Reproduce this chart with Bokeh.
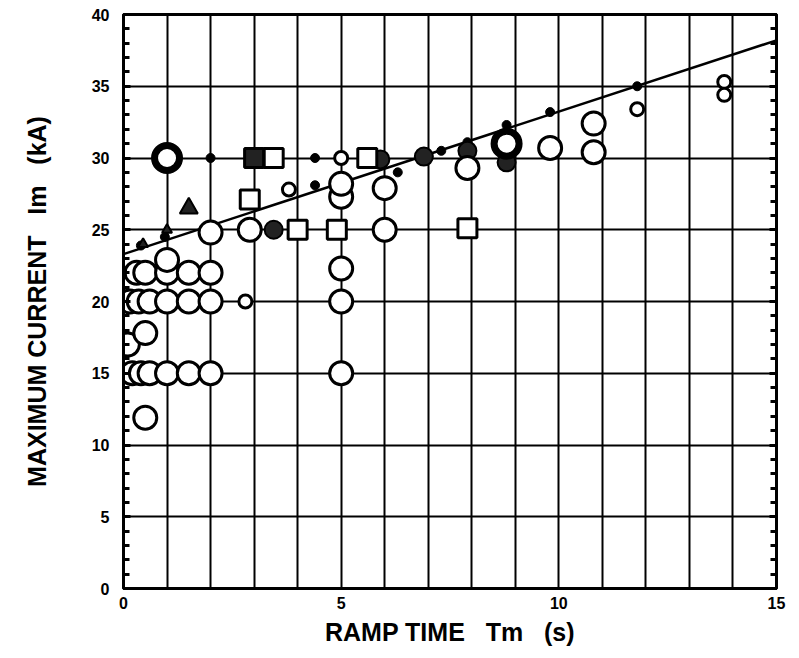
from bokeh.plotting import figure
from bokeh.models import FixedTicker, LinearAxis, Range1d
from bokeh.embed import file_html
from bokeh.resources import INLINE

# ---- data ----
# large open circles
big_x = [0.2, 0.4, 0.6, 1.0, 1.5, 2.0, 5.0,
         0.15, 0.35, 0.6, 1.0, 1.5, 2.0, 5.0,
         0.3, 0.5, 1.0, 1.5, 2.0, 5.0,
         0.1, 0.5, 0.5, 1.0,
         2.0, 2.9, 6.0,
         5.0, 5.0, 6.0,
         7.9, 9.8, 10.8, 10.8]
big_y = [15, 15, 15, 15, 15, 15, 15,
         20, 20, 20, 20, 20, 20, 20,
         22, 22, 22, 22, 22, 22.3,
         17.0, 17.8, 11.9, 22.9,
         24.8, 25.0, 25.0,
         27.3, 28.2, 27.9,
         29.3, 30.7, 32.4, 30.4]
# small open circles
small_x = [2.8, 3.8, 5.0, 11.8, 13.8, 13.8]
small_y = [20.0, 27.8, 30.0, 33.4, 35.3, 34.4]
# small filled dots
dot_x = [0.05, 0.05, 0.4, 0.95, 2.0, 4.4, 4.4, 6.3, 7.3, 7.9, 8.8, 9.8, 11.8]
dot_y = [15.0, 20.5, 23.9, 24.5, 30.0, 28.1, 30.0, 29.0, 30.5, 31.1, 32.3, 33.2, 35.0]
# open squares
sq_x = [2.9, 3.45, 4.0, 4.9, 5.6, 7.9]
sq_y = [27.1, 30.0, 25.0, 25.0, 30.0, 25.1]
# filled squares
fsq_x = [3.0]
fsq_y = [30.0]
# filled circles (dark blobs)
fc_x = [5.9, 6.9, 7.9, 8.8, 3.45]
fc_y = [29.9, 30.1, 30.5, 29.7, 25.0]
# thick rings
ring_x = [1.0, 8.8]
ring_y = [30.0, 31.0]
# filled triangles
tri_x = [0.45, 1.0, 1.5]
tri_y = [24.0, 25.0, 26.5]
# least-squares line end points
fit_x = [0.0, 15.0]
fit_y = [23.3, 38.2]

x_labels = [0, 5, 10, 15]
x_grid = list(range(0, 16))
y_major = list(range(0, 41, 5))
y_minor = list(range(0, 41))

p = figure(width=799, height=658, x_range=Range1d(0, 15), y_range=Range1d(0, 40),
           output_backend="svg", toolbar_location=None,
           min_border_left=123, min_border_right=23, min_border_top=14,
           min_border_bottom=70)
p.background_fill_color = "white"
p.border_fill_color = "white"
p.outline_line_color = "black"
p.outline_line_width = 3

p.xgrid.ticker = FixedTicker(ticks=x_grid)
p.ygrid.ticker = FixedTicker(ticks=y_major)
for g in (p.xgrid, p.ygrid):
    g.grid_line_color = "black"
    g.grid_line_width = 2
    g.grid_line_alpha = 1.0

font = "Liberation Sans"
p.xaxis.ticker = FixedTicker(ticks=x_labels)
p.yaxis.ticker = FixedTicker(ticks=y_major, minor_ticks=y_minor)
for ax in (p.xaxis, p.yaxis):
    ax.axis_line_color = "black"
    ax.axis_line_width = 3
    ax.major_label_text_font = font
    ax.major_label_text_font_style = "bold"
    ax.major_label_text_font_size = "16px"
    ax.major_label_text_color = "black"
    ax.axis_label_text_font = font
    ax.axis_label_text_font_style = "bold"
    ax.axis_label_text_font_size = "25px"
    ax.axis_label_text_color = "black"
p.xaxis.major_tick_in = 0
p.xaxis.major_tick_out = 0
p.xaxis.minor_tick_in = 0
p.xaxis.minor_tick_out = 0
p.yaxis.major_tick_in = 7
p.yaxis.major_tick_out = 0
p.yaxis.minor_tick_in = 6
p.yaxis.minor_tick_out = 0
p.yaxis.major_tick_line_width = 3
p.yaxis.minor_tick_line_width = 3
nb = "\u00a0"
p.xaxis.axis_label = "RAMP TIME" + nb * 3 + "Tm" + nb * 3 + "(s)"
p.yaxis.axis_label = "MAXIMUM CURRENT" + nb * 3 + "Im" + nb * 3 + "(kA)"
p.xaxis.axis_label_standoff = 6
p.yaxis.axis_label_standoff = 38
p.xaxis.major_label_standoff = 8
p.yaxis.major_label_standoff = 14

right = LinearAxis(ticker=FixedTicker(ticks=y_major, minor_ticks=y_minor))
right.major_label_text_color = None
right.axis_line_width = 3
right.major_tick_in = 7
right.major_tick_out = 0
right.minor_tick_in = 6
right.minor_tick_out = 0
right.major_tick_line_width = 3
right.minor_tick_line_width = 3
p.add_layout(right, "right")

p.line(fit_x, fit_y, line_color="black", line_width=2.5)

p.scatter(dot_x, dot_y, marker="circle", size=9, fill_color="black", line_color="black")
p.scatter(fc_x, fc_y, marker="circle", size=18, fill_color="#222222", line_color="black", line_width=2)
p.scatter(tri_x, tri_y, marker="triangle", size=[10, 10, 18], fill_color="#222222", line_color="black", line_width=2)
p.scatter(big_x, big_y, marker="circle", size=23, fill_color="white", line_color="black", line_width=3)
p.scatter(small_x, small_y, marker="circle", size=13, fill_color="white", line_color="black", line_width=3)
p.scatter(sq_x, sq_y, marker="square", size=19, fill_color="white", line_color="black", line_width=3)
p.scatter(fsq_x, fsq_y, marker="square", size=19, fill_color="#222222", line_color="black", line_width=3)
p.scatter(ring_x, ring_y, marker="circle", size=25, fill_color="white", line_color="black", line_width=7)
p.scatter(ring_x[:1], ring_y[:1], marker="star", size=9, fill_color="white", line_color="white")

open("out.html", "w").write(file_html(p, INLINE))
